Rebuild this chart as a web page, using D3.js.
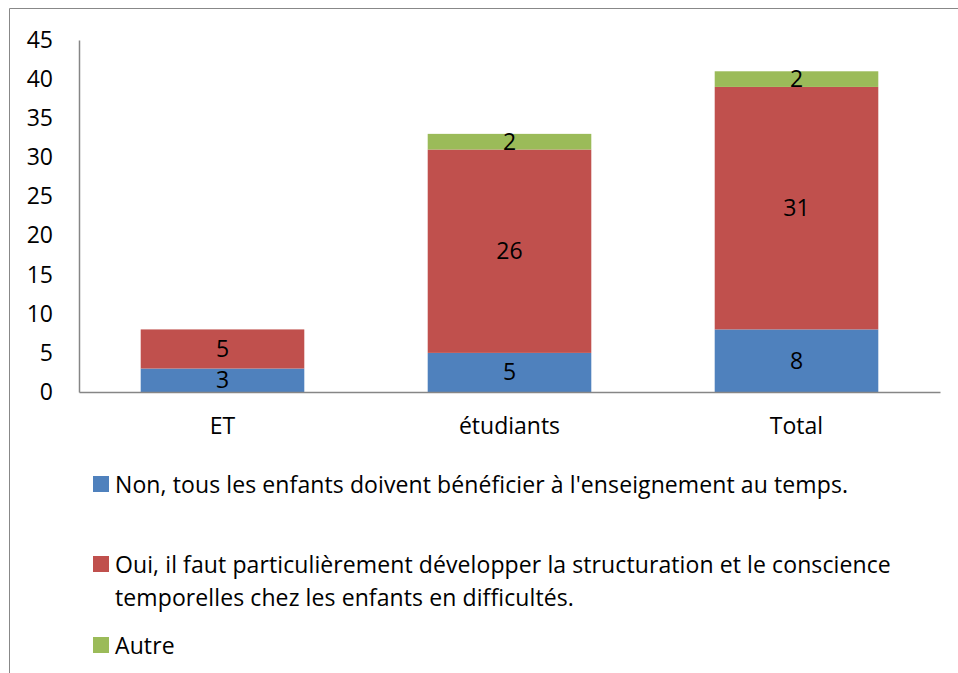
<!DOCTYPE html>
<html>
<head>
<meta charset="utf-8">
<script src="https://cdn.jsdelivr.net/npm/d3@7"></script>
<style>
  html, body { margin: 0; padding: 0; background: #fff; }
  svg { display: block; }
  text { font-family: "Open Sans", sans-serif; fill: #000; }
</style>
</head>
<body>
<svg id="chart" width="958" height="673"></svg>
<script>
// Réponses par groupe
const categories = ["ET", "étudiants", "Total"];
const nonValues = [3, 5, 8];
const ouiValues = [5, 26, 31];
const autreValues = [0, 2, 2];
const yTicks = [0, 5, 10, 15, 20, 25, 30, 35, 40, 45];

const legendLines = [
  ["Non, tous les enfants doivent bénéficier à l'enseignement au temps."],
  ["Oui, il faut particulièrement développer la structuration et le conscience",
   "temporelles chez les enfants en difficultés."],
  ["Autre"]
];
const colors = ["#4F81BD", "#C0504D", "#9BBB59"];

const rows = categories.map((c, i) => ({
  cat: c, non: nonValues[i], oui: ouiValues[i], autre: autreValues[i]
}));
const keys = ["non", "oui", "autre"];
const stacked = d3.stack().keys(keys)(rows);

const svg = d3.select("#chart");
const fontFamily = "'Open Sans', sans-serif";
const fontSize = 23;

// cadre extérieur
svg.append("path")
  .attr("d", "M9.5,673 V8.5 H958")
  .attr("fill", "none")
  .attr("stroke", "#888")
  .attr("stroke-width", 1);

const plot = { left: 79, right: 940, top: 40, bottom: 392 };

const x = d3.scaleBand()
  .domain(categories)
  .range([plot.left, plot.right])
  .paddingInner(0.43)
  .paddingOuter(0.215);

const y = d3.scaleLinear()
  .domain([0, 45])
  .range([plot.bottom, plot.top]);

// barres empilées
const layers = svg.append("g").selectAll("g")
  .data(stacked)
  .join("g")
  .attr("fill", (d, i) => colors[i]);

layers.selectAll("rect")
  .data(d => d.map(s => ({ s, key: d.key })))
  .join("rect")
  .attr("x", d => x(d.s.data.cat))
  .attr("width", x.bandwidth())
  .attr("y", d => y(d.s[1]))
  .attr("height", d => y(d.s[0]) - y(d.s[1]));

// étiquettes de valeurs
layers.each(function(layer) {
  d3.select(this).selectAll("text")
    .data(layer.filter(s => s[1] - s[0] > 0))
    .join("text")
    .attr("x", s => x(s.data.cat) + x.bandwidth() / 2)
    .attr("y", s => (y(s[0]) + y(s[1])) / 2)
    .attr("dy", "0.35em")
    .attr("text-anchor", "middle")
    .attr("font-size", fontSize)
    .attr("fill", "#000")
    .text(s => s[1] - s[0]);
});

// axe Y
const yAxis = d3.axisLeft(y).tickValues(yTicks).tickSize(0).tickPadding(26);
const gy = svg.append("g").attr("transform", `translate(${plot.left},0)`).call(yAxis);
gy.select(".domain").attr("stroke", "#868686").attr("stroke-width", 1.5);
gy.selectAll("text").attr("font-size", fontSize).attr("font-family", fontFamily).attr("fill", "#000");

// axe X
const xAxis = d3.axisBottom(x).tickSize(0).tickPadding(26);
const gx = svg.append("g").attr("transform", `translate(0,${plot.bottom})`).call(xAxis);
gx.select(".domain").attr("stroke", "#868686").attr("stroke-width", 1.5);
gx.selectAll("text").attr("font-size", fontSize).attr("font-family", fontFamily).attr("fill", "#000");

// légende
const legendY = [491, 571, 652];
const legend = svg.append("g");
legendLines.forEach((lines, i) => {
  const g = legend.append("g");
  g.append("rect")
    .attr("x", 93).attr("y", legendY[i] - 15)
    .attr("width", 16).attr("height", 16)
    .attr("fill", colors[i]);
  lines.forEach((ln, j) => {
    g.append("text")
      .attr("x", 115)
      .attr("y", legendY[i] + 2 + j * 33)
      .attr("font-size", fontSize)
      .attr("letter-spacing", 0.1)
      .text(ln);
  });
});
</script>
</body>
</html>
